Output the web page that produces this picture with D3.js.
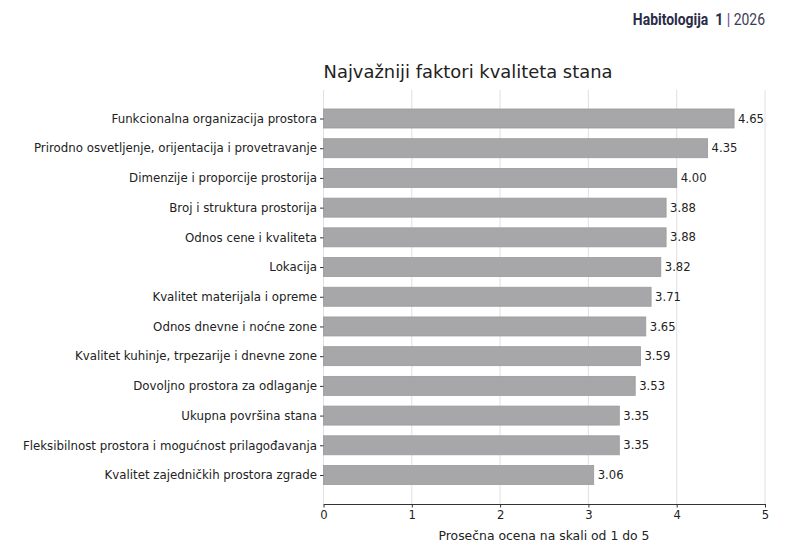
<!DOCTYPE html>
<html><head><meta charset="utf-8">
<script src="https://cdn.jsdelivr.net/npm/d3@7"></script>
<style>body{margin:0;background:#fff}svg{display:block}</style>
</head><body>
<svg id="c" width="800" height="556"></svg>
<script>
const categories = [
  "Funkcionalna organizacija prostora",
  "Prirodno osvetljenje, orijentacija i provetravanje",
  "Dimenzije i proporcije prostorija",
  "Broj i struktura prostorija",
  "Odnos cene i kvaliteta",
  "Lokacija",
  "Kvalitet materijala i opreme",
  "Odnos dnevne i noćne zone",
  "Kvalitet kuhinje, trpezarije i dnevne zone",
  "Dovoljno prostora za odlaganje",
  "Ukupna površina stana",
  "Fleksibilnost prostora i mogućnost prilagođavanja",
  "Kvalitet zajedničkih prostora zgrade"
];
const values = [4.65, 4.35, 4.00, 3.88, 3.88, 3.82, 3.71, 3.65, 3.59, 3.53, 3.35, 3.35, 3.06];
const xTicks = [0, 1, 2, 3, 4, 5];

const svg = d3.select("#c");
const L = 323.5, R = 765, T = 90, B = 504;
const x = d3.scaleLinear().domain([0, 5]).range([L, R]);
const y = d3.scalePoint().domain(categories).range([118.5, 475]);
const bh = y.step() * 0.64;
const font = "DejaVu Sans, sans-serif";

// header
const hdr = svg.append("text").attr("x", 765).attr("y", 25).attr("text-anchor", "end")
  .attr("font-family", "Roboto, sans-serif").attr("font-size", 17).attr("fill", "#2a2c48")
  .style("white-space", "pre")
  .attr("transform", "translate(765,0) scale(0.82,1) translate(-765,0)");
hdr.append("tspan").attr("font-weight", 700).text("Habitologija  1 ");
hdr.append("tspan").attr("font-weight", 700).attr("fill", "#7b4f9a").text("|");
hdr.append("tspan").attr("font-weight", 400).attr("fill", "#3a3c55").text(" 2026");

// title
svg.append("text").attr("x", 468).attr("y", 78).attr("text-anchor", "middle")
  .attr("font-family", font).attr("font-size", 17.9).attr("fill", "#222")
  .text("Najvažniji faktori kvaliteta stana");

// grid
svg.append("g").selectAll("line").data(xTicks).join("line")
  .attr("x1", d => x(d)).attr("x2", d => x(d)).attr("y1", T).attr("y2", B)
  .attr("stroke", "#dcdcdc").attr("stroke-width", 0.9);

// bars
svg.append("g").selectAll("rect").data(values).join("rect")
  .attr("x", x(0)).attr("y", (d, i) => y(categories[i]) - bh / 2)
  .attr("width", d => x(d) - x(0)).attr("height", bh)
  .attr("fill", "#a7a7a9").attr("stroke", "#9a9a9c").attr("stroke-width", 0.8);

// value labels
svg.append("g").selectAll("text").data(values).join("text")
  .attr("x", d => x(d) + 4).attr("y", (d, i) => y(categories[i]))
  .attr("dy", "0.35em").attr("font-family", font).attr("font-size", 11.6).attr("fill", "#222")
  .text(d => d.toFixed(2));

// y axis
const ya = svg.append("g").attr("transform", `translate(${L},0)`)
  .call(d3.axisLeft(y).tickSize(3.5).tickPadding(3));
ya.select(".domain").remove();
ya.selectAll("line").attr("stroke", "#333");
ya.selectAll("text").attr("font-family", font).attr("font-size", 11.8).attr("fill", "#222");

// x axis
const xa = svg.append("g").attr("transform", `translate(0,${B})`)
  .call(d3.axisBottom(x).tickValues(xTicks).tickFormat(d3.format("d")).tickSize(3.5).tickPadding(3).tickSizeOuter(0));
xa.select(".domain").attr("stroke", "#333").attr("stroke-width", 1);
xa.selectAll("line").attr("stroke", "#333");
xa.selectAll("text").attr("font-family", font).attr("font-size", 11.6).attr("fill", "#222");

svg.append("text").attr("x", 544).attr("y", 540).attr("text-anchor", "middle")
  .attr("font-family", font).attr("font-size", 12.4).attr("fill", "#222")
  .text("Prosečna ocena na skali od 1 do 5");
</script>
</body></html>
